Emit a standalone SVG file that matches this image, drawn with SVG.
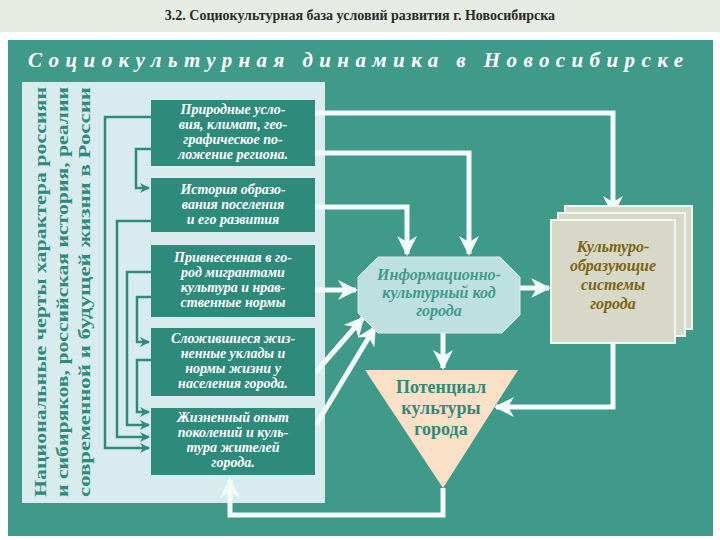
<svg xmlns="http://www.w3.org/2000/svg" width="720" height="540" viewBox="0 0 720 540">
<defs>
<style>
.bx{fill:#2e8a7a}
.bt{font-family:"Liberation Serif",serif;font-style:italic;font-weight:bold;font-size:14px;fill:#fff;text-anchor:middle}
.vt{font-family:"Liberation Serif",serif;font-weight:bold;font-size:17px;fill:#2e8a7a;text-anchor:middle}
.wl{fill:none;stroke:#f2fafa;stroke-width:5}
.tl{fill:none;stroke:#2e8a7a;stroke-width:2.5}
</style>
<marker id="wa" viewBox="0 0 10 10" refX="9" refY="5" markerWidth="4" markerHeight="4" orient="auto" markerUnits="strokeWidth"><path d="M0,0 L10,5 L0,10 L3,5 Z" fill="#f2fafa"/></marker>
<marker id="ta" viewBox="0 0 10 10" refX="9" refY="5" markerWidth="4" markerHeight="4" orient="auto" markerUnits="strokeWidth"><path d="M0,0 L10,5 L0,10 L3,5 Z" fill="#2e8a7a"/></marker>
</defs>
<rect width="720" height="540" fill="#fff"/>
<rect width="720" height="32" fill="#e6ebe3"/>
<text x="360" y="20" text-anchor="middle" font-family="Liberation Serif,serif" font-weight="bold" font-size="14" fill="#2a2a2a">3.2. Социокультурная  база условий развития г. Новосибирска</text>
<rect x="8" y="40" width="705" height="496" fill="#3f9a8a"/>
<text x="358" y="67" text-anchor="middle" font-family="Liberation Serif,serif" font-style="italic" font-weight="bold" font-size="21" fill="#fff" letter-spacing="5" textLength="660">Социокультурная динамика в Новосибирске</text>
<rect x="22" y="82" width="303" height="421" fill="#d8ecef"/>
<g id="side">
<text class="vt" transform="translate(46,292) rotate(-90)" textLength="410" lengthAdjust="spacingAndGlyphs">Национальные черты характера россиян</text>
<text class="vt" transform="translate(68,292) rotate(-90)" textLength="410" lengthAdjust="spacingAndGlyphs">и сибиряков, российская история, реалии</text>
<text class="vt" transform="translate(90,292) rotate(-90)" textLength="410" lengthAdjust="spacingAndGlyphs">современной и будущей жизни в России</text>
</g>
<g id="connectors">
<path class="tl" d="M151,117 H105 V448 H149" marker-end="url(#ta)"/>
<path class="tl" d="M151,149 H136 V188 H149" marker-end="url(#ta)"/>
<path class="tl" d="M151,221 H117 V437 H149" marker-end="url(#ta)"/>
<path class="tl" d="M151,272 H127 V425 H149" marker-end="url(#ta)"/>
<path class="tl" d="M151,297 H137 V342 H149" marker-end="url(#ta)"/>
<path class="tl" d="M151,360 H137 V412 H149" marker-end="url(#ta)"/>
<path class="wl" d="M315,113 H613 V214" marker-end="url(#wa)"/>
<path class="wl" d="M315,153 H469 V254" marker-end="url(#wa)"/>
<path class="wl" d="M315,207 H407 V254" marker-end="url(#wa)"/>
<path class="wl" d="M315,290 H356" marker-end="url(#wa)"/>
<path class="wl" d="M316,372 L363,318" marker-end="url(#wa)"/>
<path class="wl" d="M316,425 L375,327" marker-end="url(#wa)"/>
<path class="wl" d="M520,288 H549" marker-end="url(#wa)"/>
<path class="wl" d="M443,333 V368" marker-end="url(#wa)"/>
<path class="wl" d="M613,343 V407 H496" marker-end="url(#wa)"/>
<path class="wl" d="M443,488 V515 H230 V480" marker-end="url(#wa)"/>
</g>
<g id="n1"><rect class="bx" x="151" y="100" width="164" height="66"/>
<text class="bt" x="233" y="114">Природные усло-</text><text class="bt" x="233" y="129">вия, климат, гео-</text><text class="bt" x="233" y="144">графическое по-</text><text class="bt" x="233" y="159">ложение региона.</text></g>
<g id="n2"><rect class="bx" x="151" y="178" width="164" height="54"/>
<text class="bt" x="233" y="194">История образо-</text><text class="bt" x="233" y="209">вания поселения</text><text class="bt" x="233" y="224">и его развития</text></g>
<g id="n3"><rect class="bx" x="151" y="245" width="164" height="72"/>
<text class="bt" x="233" y="262">Привнесенная в го-</text><text class="bt" x="233" y="277">род мигрантами</text><text class="bt" x="233" y="292">культура и нрав-</text><text class="bt" x="233" y="307">ственные нормы</text></g>
<g id="n4"><rect class="bx" x="151" y="328" width="164" height="68"/>
<text class="bt" x="233" y="343">Сложившиеся жиз-</text><text class="bt" x="233" y="358">ненные уклады и</text><text class="bt" x="233" y="373">нормы жизни у</text><text class="bt" x="233" y="388">населения города.</text></g>
<g id="n5"><rect class="bx" x="151" y="408" width="164" height="67"/>
<text class="bt" x="233" y="422">Жизненный опыт</text><text class="bt" x="233" y="437">поколений и куль-</text><text class="bt" x="233" y="452">тура жителей</text><text class="bt" x="233" y="467">города.</text></g>
<g id="info"><polygon points="378,257 500,257 520,277 520,315 502,333 378,333 358,313 358,277" fill="#bfe0e0" stroke="#d8eeee" stroke-width="1"/>
<g font-family="Liberation Serif,serif" font-style="italic" font-weight="bold" font-size="16" fill="#3f9a8a" text-anchor="middle"><text x="439" y="280">Информационно-</text><text x="439" y="298">культурный  код</text><text x="439" y="316">города</text></g></g>
<g id="cult"><rect x="565" y="206" width="127" height="123" fill="#d8d8c8" stroke="#f2f6f0" stroke-width="2"/><rect x="558" y="213" width="127" height="123" fill="#d8d8c8" stroke="#f2f6f0" stroke-width="2"/><rect x="551" y="220" width="124" height="123" fill="#d8d8c8" stroke="#f2f6f0" stroke-width="2"/>
<g font-family="Liberation Serif,serif" font-style="italic" font-weight="bold" font-size="16" fill="#7a6410" text-anchor="middle"><text x="613" y="252">Культуро-</text><text x="613" y="271">образующие</text><text x="613" y="290">системы</text><text x="613" y="309">города</text></g></g>
<g id="pot"><polygon points="365,370 518,370 443,488" fill="#fbe0c8"/>
<g font-family="Liberation Serif,serif" font-weight="bold" font-size="18" fill="#2e8a7a" text-anchor="middle"><text x="441" y="393">Потенциал</text><text x="441" y="414">культуры</text><text x="441" y="435">города</text></g></g>
</svg>
